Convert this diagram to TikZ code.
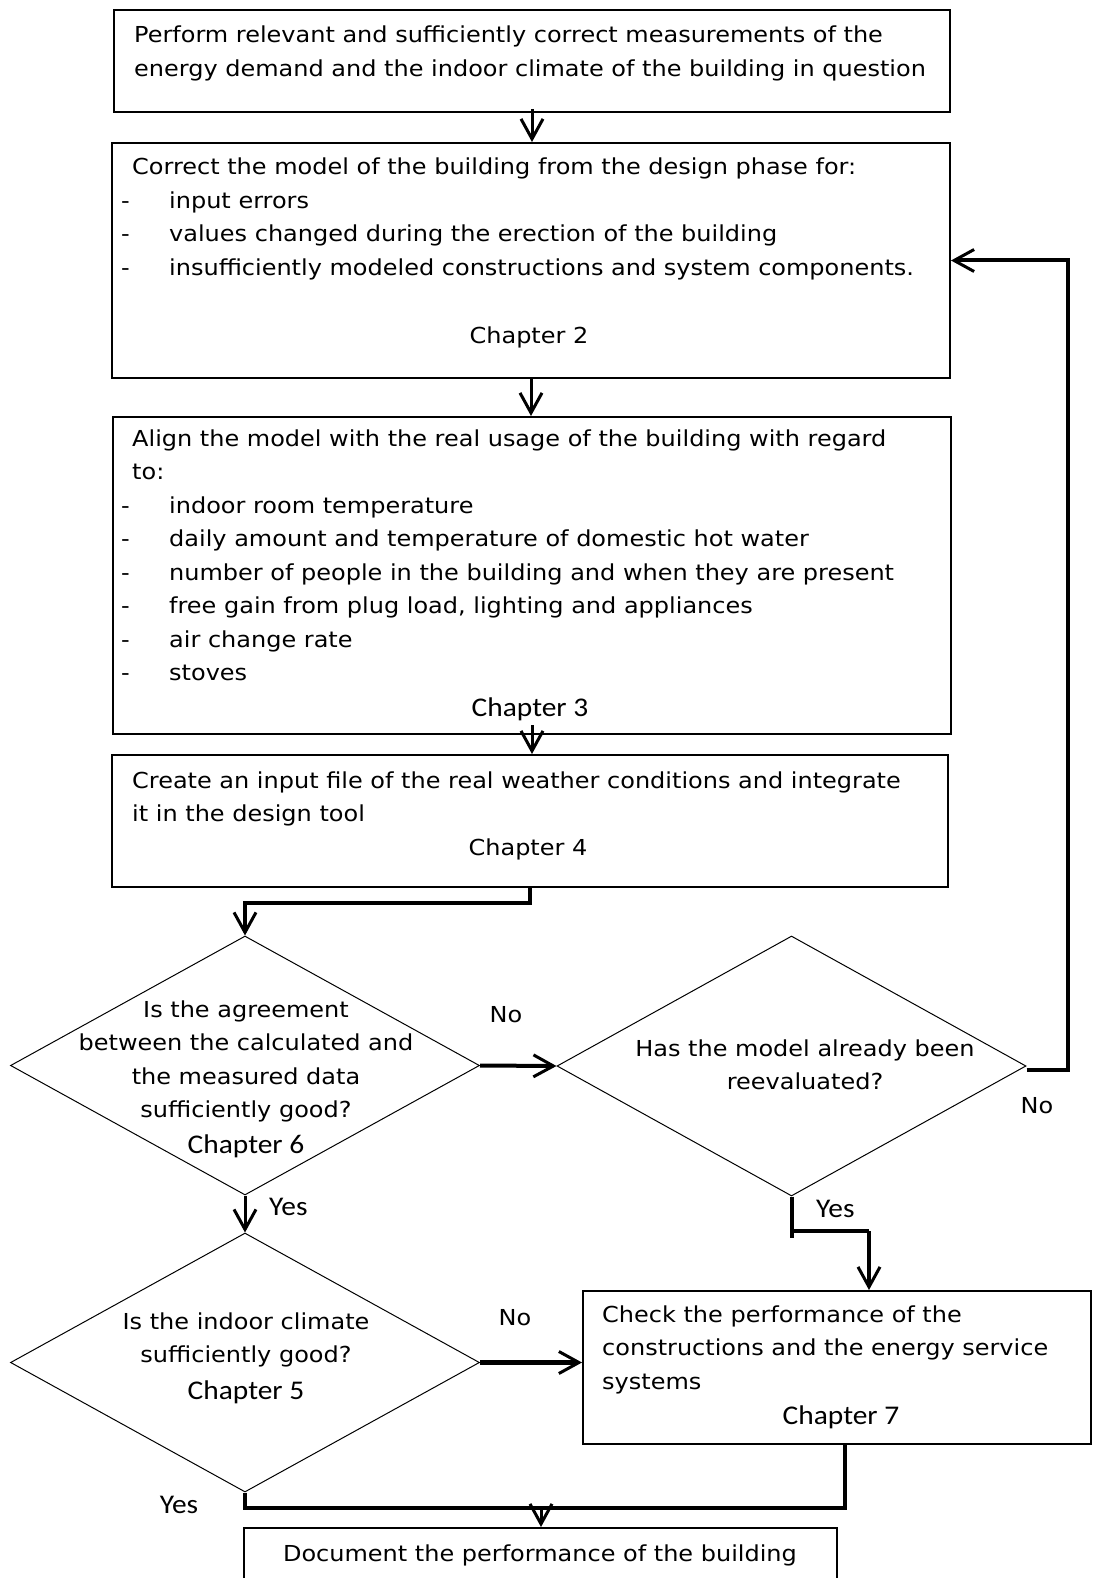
\documentclass[tikz,border=0pt]{standalone}
\usepackage{fontspec}
\setmainfont[FakeStretch=1.09]{DejaVu Sans}
\newfontfamily\calfont[FakeStretch=1.09]{Carlito}
\usetikzlibrary{arrows.meta,shapes.geometric}
\tikzset{
  boxst/.style={draw, line width=2pt, rectangle, inner sep=0pt, anchor=north west},
  dia/.style={draw, line width=1pt, diamond, inner sep=0pt},
  txt/.style={inner sep=0pt, font=\fontsize{22}{33.5}\selectfont},
  cal/.style={inner sep=0pt, font=\calfont\fontsize{27}{33.5}\selectfont},
  tip/.style={-{Straight Barb[length=20pt,width=22pt,line width=3pt]}},
  arr/.style={line width=3pt, tip},
  heavy/.style={line width=4pt},
}
\newcommand{\itm}[1]{\makebox[48pt][l]{-}#1}
\begin{document}
\begin{tikzpicture}[x=1pt,y=1pt]
\useasboundingbox (0,0) rectangle (1092,-1578);
\clip (0,0) rectangle (1092,-1578);
% boxes
\node[boxst, minimum width=836pt, minimum height=102pt] (b1) at (113,-9) {};
\node[boxst, minimum width=838pt, minimum height=235pt] (b2) at (111,-142) {};
\node[boxst, minimum width=838pt, minimum height=317pt] (b3) at (112,-416) {};
\node[boxst, minimum width=836pt, minimum height=132pt] (b4) at (111,-754) {};
\node[boxst, minimum width=508pt, minimum height=153pt] (b5) at (582,-1290) {};
\node[boxst, minimum width=593pt, minimum height=100pt] (b6) at (243,-1527) {};
% diamonds
\node[dia, minimum width=469pt, minimum height=259pt] (d1) at (245,-1065.5) {};
\node[dia, minimum width=469pt, minimum height=260pt] (d2) at (791.5,-1066) {};
\node[dia, minimum width=469pt, minimum height=259pt] (d3) at (245,-1362.5) {};
% texts
\node[txt, anchor=base west] (t1) at (134,-43) {\begin{tabular}[t]{@{}l@{}}Perform relevant and sufficiently correct measurements of the\\energy demand and the indoor climate of the building in question\end{tabular}};
\node[txt, anchor=base west] (t2) at (121,-175) {\begin{tabular}[t]{@{}l@{}}\hspace*{11pt}Correct the model of the building from the design phase for:\\\itm{input errors}\\\itm{values changed during the erection of the building}\\\itm{insufficiently modeled constructions and system components.}\end{tabular}};
\node[txt, anchor=base] (c2) at (529,-343) {Chapter 2};
\node[txt, anchor=base west] (t3) at (121,-446) {\begin{tabular}[t]{@{}l@{}}\hspace*{11pt}Align the model with the real usage of the building with regard\\\hspace*{11pt}to:\\\itm{indoor room temperature}\\\itm{daily amount and temperature of domestic hot water}\\\itm{number of people in the building and when they are present}\\\itm{free gain from plug load, lighting and appliances}\\\itm{air change rate}\\\itm{stoves}\end{tabular}};
\node[cal, anchor=base] (c3) at (530,-716) {Chapter 3};
\node[txt, anchor=base west] (t4) at (132,-788) {\begin{tabular}[t]{@{}l@{}}Create an input file of the real weather conditions and integrate\\it in the design tool\end{tabular}};
\node[txt, anchor=base] (c4) at (528,-855) {Chapter 4};
\node[txt, anchor=base] (t5) at (246,-1017) {\begin{tabular}[t]{@{}c@{}}Is the agreement\\between the calculated and\\the measured data\\sufficiently good?\end{tabular}};
\node[cal, anchor=base] (c6) at (246,-1153) {Chapter 6};
\node[txt, anchor=base] (t6) at (805,-1056) {\begin{tabular}[t]{@{}c@{}}Has the model already been\\reevaluated?\end{tabular}};
\node[txt, anchor=base] (t7) at (246,-1329) {\begin{tabular}[t]{@{}c@{}}Is the indoor climate\\sufficiently good?\end{tabular}};
\node[cal, anchor=base] (c5) at (246,-1399) {Chapter 5};
\node[txt, anchor=base west] (t8) at (602,-1322) {\begin{tabular}[t]{@{}l@{}}Check the performance of the\\constructions and the energy service\\systems\end{tabular}};
\node[cal, anchor=base] (c7) at (841,-1424) {Chapter 7};
\node[txt, anchor=base] (t9) at (540,-1561) {Document the performance of the building};
% labels
\node[txt, anchor=base] (no1) at (506,-1022) {No};
\node[txt, anchor=base] (no2) at (1037,-1113) {No};
\node[txt, anchor=base] (no3) at (515,-1325) {No};
\node[cal, anchor=base west] (yes1) at (269,-1215) {Yes};
\node[cal, anchor=base west] (yes2) at (816,-1217) {Yes};
\node[cal, anchor=base] (yes3) at (179,-1513) {Yes};
% connectors
\draw[arr] ([yshift=4pt]b1.south) -- (b1.south |- b2.north);
\draw[arr] (b2.south) -- (b2.south |- b3.north);
\draw[arr] ([yshift=10pt]b3.south) -- (b3.south |- b4.north);
\draw[heavy, tip] (b4.south) -- ++(0,-15) -| (d1.north);
\draw[heavy, tip] (d1.east) -- (d2.west);
\draw[heavy, tip] ([yshift=-4pt]d2.east) -- ++(41,0) |- (b2.east);
\draw[arr] (d1.south) -- (d3.north);
\coordinate (k2) at (791.5,-1231);
\coordinate (k3) at (869,-1231);
\draw[heavy] (d2.south) -- ++(0,-41);
\draw[heavy] (k2) -- (k3);
\draw[heavy, tip] (k3) -- (k3 |- b5.north);
\draw[line width=5pt, tip] (d3.east) -- (d3.east -| b5.west);
\coordinate (j) at (541,-1508);
\coordinate (k4) at (845,-1443);
\draw[heavy] (d3.south) |- (k4 |- j) -- (k4);
\draw[arr] (j) -- (j |- b6.north);
\end{tikzpicture}
\end{document}
